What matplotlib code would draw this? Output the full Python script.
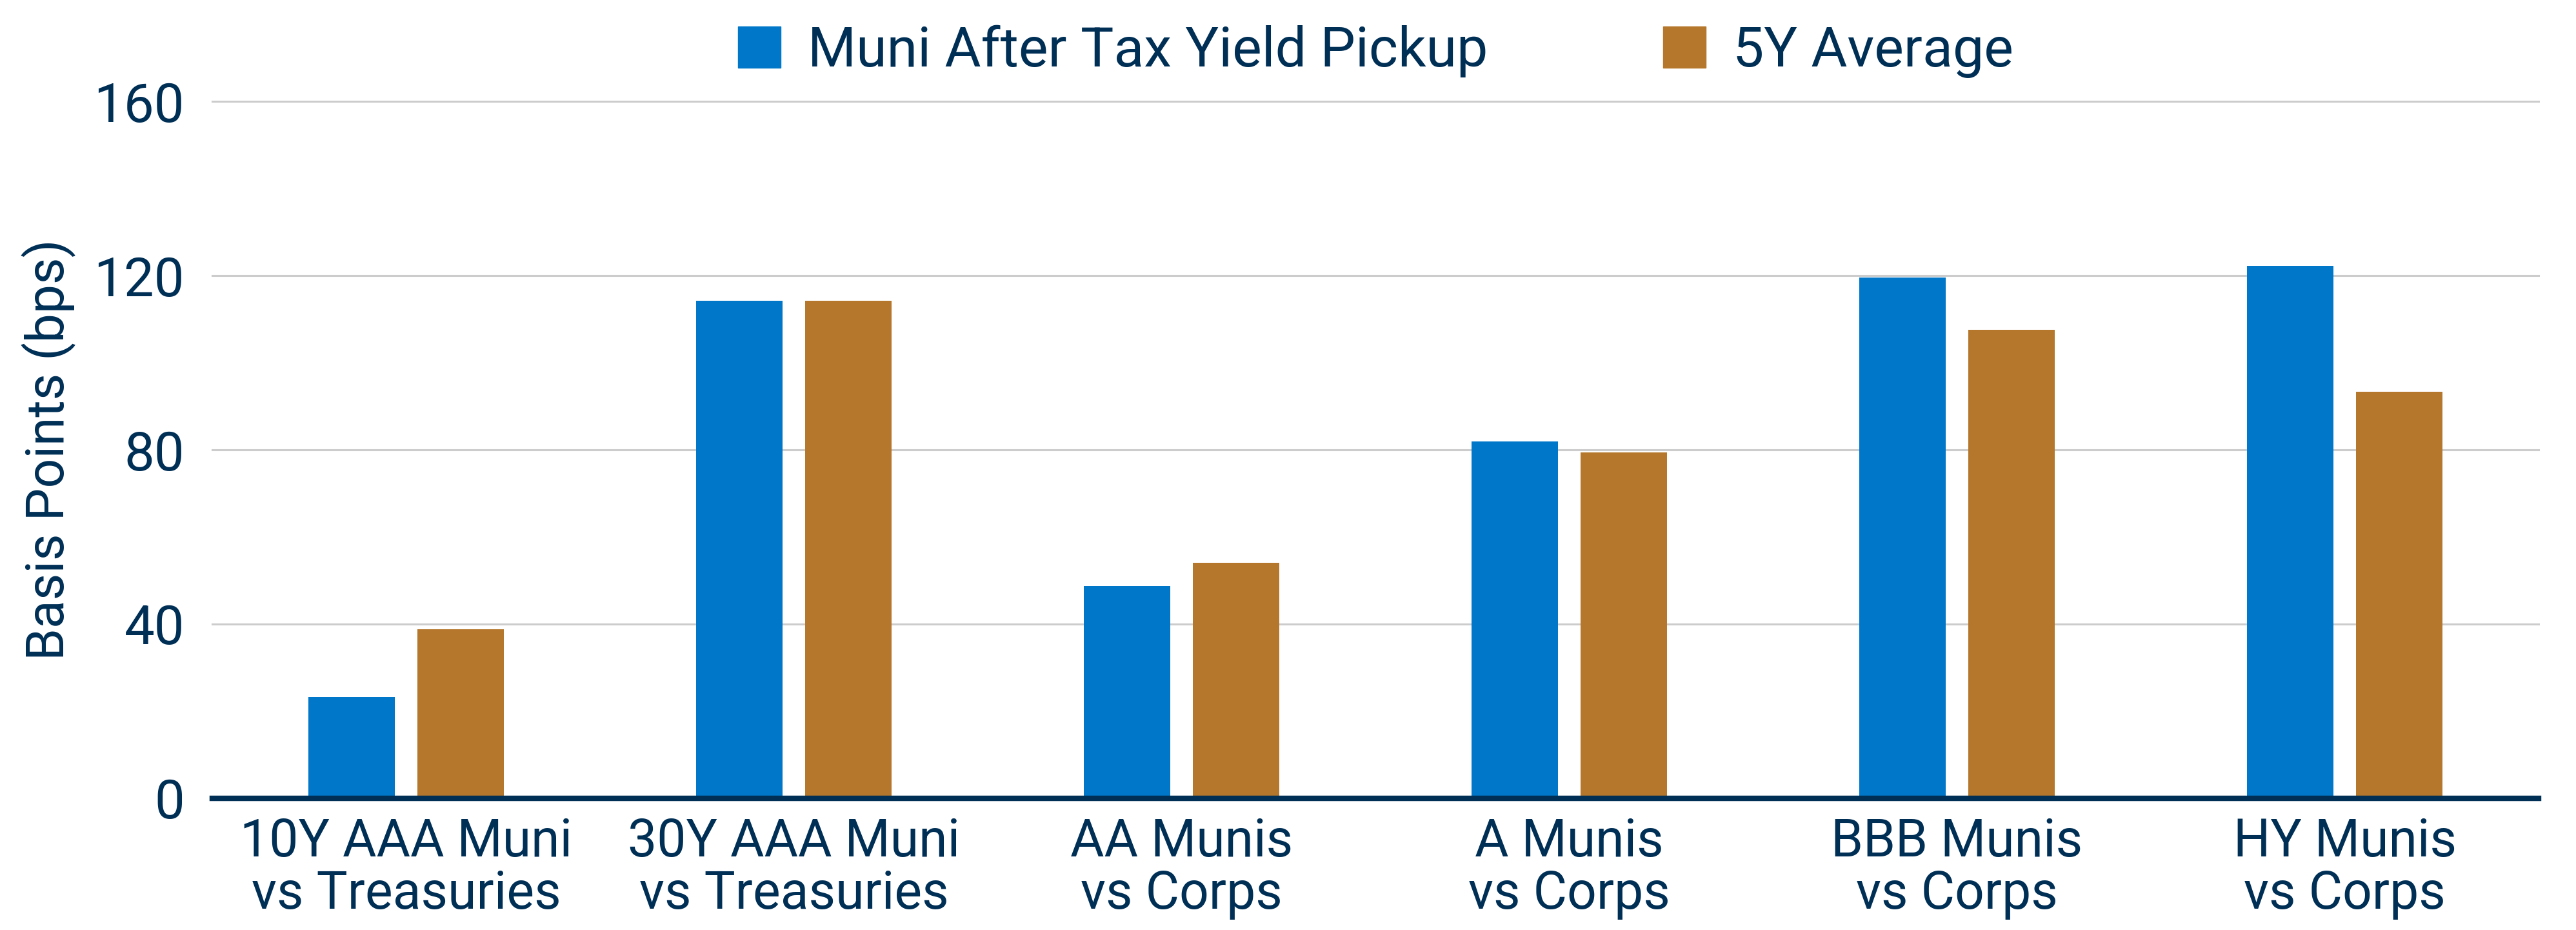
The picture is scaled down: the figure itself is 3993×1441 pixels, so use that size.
import numpy as np
import matplotlib.pyplot as plt
from matplotlib.patches import Patch

categories = ['10Y AAA Muni\nvs Treasuries', '30Y AAA Muni\nvs Treasuries',
              'AA Munis\nvs Corps', 'A Munis\nvs Corps',
              'BBB Munis\nvs Corps', 'HY Munis\nvs Corps']
pickup = [23.3, 114.3, 48.7, 81.9, 119.5, 122.3]
avg_5y = [38.8, 114.3, 54.0, 79.4, 107.6, 93.4]
series_names = ['Muni After Tax Yield Pickup', '5Y Average']
yticks = [0, 40, 80, 120, 160]

blue = '#0077C8'
orange = '#B5772B'
navy = '#002F56'
grid_c = '#CCCCCC'

plt.rcParams['font.family'] = ['Roboto', 'DejaVu Sans']


def main():
    fig = plt.figure(figsize=(39.93, 14.41), dpi=100)
    ax = fig.add_axes([0.0824, 0.1416, 0.9031, 0.7494])

    x = np.arange(len(categories))
    w = 0.223
    off = 0.141
    ax.bar(x - off, pickup, w, color=blue, zorder=3)
    ax.bar(x + off, avg_5y, w, color=orange, zorder=3)

    ax.set_xlim(-0.5, len(categories) - 0.5)
    ax.set_ylim(0, 160)
    ax.set_yticks(yticks)
    for t in yticks[1:]:
        ax.axhline(t, color=grid_c, lw=2.2, zorder=1, clip_on=False)
    ax.axhline(0, color=navy, lw=6.1, zorder=4, clip_on=False)

    for s in ax.spines.values():
        s.set_visible(False)

    ax.set_xticks(x)
    ax.set_xticklabels(categories, linespacing=1.05)
    ax.tick_params(axis='both', length=0, colors=navy)
    ax.tick_params(axis='x', pad=21, labelsize=58)
    ax.tick_params(axis='y', pad=31, labelsize=60)

    ax.set_ylabel('Basis Points (bps)', fontsize=58, color=navy, labelpad=20)

    handles = [Patch(color=blue), Patch(color=orange)]
    leg = fig.legend(handles, series_names, loc='center',
                     bbox_to_anchor=(0.534, 0.9445), ncol=2, frameon=False,
                     fontsize=62, handlelength=0.77, handleheight=0.77,
                     handletextpad=0.48, columnspacing=3.16)
    for t in leg.get_texts():
        t.set_color(navy)

    fig.savefig('out.png', dpi=100)


if __name__ == '__main__':
    main()
